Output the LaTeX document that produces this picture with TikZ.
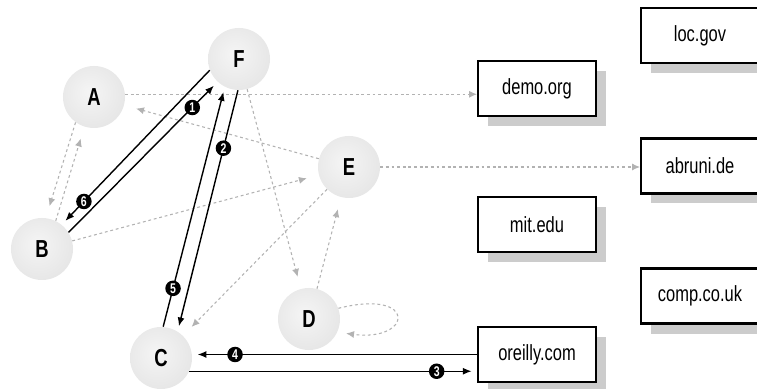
\documentclass[tikz,border=0pt]{standalone}
\usepackage{fontspec}
\setsansfont{Liberation Sans}[FakeStretch=0.75]
\usetikzlibrary{arrows.meta,shadows}

% soft grey ball for the hosts
\pgfdeclareradialshading{hostball}{\pgfpoint{-4bp}{4bp}}{%
    color(0bp)=(gray!8); color(30bp)=(gray!20); color(50bp)=(gray!45); color(72bp)=(gray!45)}

\begin{document}
\begin{tikzpicture}[
    x=0.2mm,
    y=-0.2mm,
    >=Latex,
    host/.style={
        circle,
        minimum size=1.24cm,
        inner sep=0pt,
        shading=hostball,
        font=\sffamily\bfseries\fontsize{14}{14}\selectfont
    },
    site/.style={
        draw,
        line width=1.2pt,
        fill=white,
        minimum width=2.36cm,
        minimum height=1.1cm,
        inner sep=0pt,
        font=\sffamily\fontsize{12.5}{12.5}\selectfont,
        drop shadow={shadow xshift=0.2cm, shadow yshift=-0.2cm,
                     fill=gray!40, opacity=1}
    },
    num/.style={
        circle,
        fill=black,
        text=white,
        inner sep=0pt,
        minimum size=0.31cm,
        font=\sffamily\bfseries\fontsize{8}{8}\selectfont
    },
    weak/.style={-{Latex[length=4.5pt,width=4pt]}, gray!60, line width=0.6pt,
                 dash pattern=on 1.6pt off 1.6pt, shorten >=7pt},
    crawl/.style={-{Latex[length=5pt,width=4pt]}, line width=0.8pt, shorten >=3pt}
]

\path[clip] (0,0) rectangle (757,389);
\fill[white] (0,0) rectangle (757,389);

% ============================================================
% Hosts
% ============================================================

\node[host] (F) at (239,59) {F};
\node[host] (A) at (94,97) {A};
\node[host] (E) at (349,167) {E};
\node[host] (B) at (42,249) {B};
\node[host] (C) at (161,358) {C};
\node[host] (D) at (309,319) {D};

% ============================================================
% Sites
% ============================================================

\node[site] (loc) at (700,35.5) {loc.gov};
\node[site] (demo) at (537,88.5) {demo.org};
\node[site] (abruni) at (700,166) {abruni.de};
\node[site] (mit) at (537,224.5) {mit.edu};
\node[site] (comp) at (700,296) {comp.co.uk};
\node[site] (oreilly) at (537,354.5) {oreilly.com};

% ============================================================
% Links between pages (dotted)
% ============================================================

\draw[weak, shorten >=0pt] (A.5) -- (A.5 -| demo.west);
\draw[weak, shorten >=0pt] (E.east) -- (E.east -| abruni.west);
\draw[weak] (E) -- (A);
\draw[weak] (B) -- (E);
\draw[weak] (E) -- (C);
\draw[weak] (F) -- (D);
\draw[weak] (D) -- (E);
\draw[weak] (A.234) -- (B.83);
\draw[weak] (B.64) -- (A.252);

% self link on D
\draw[weak, shorten >=5pt]
    (D.20) .. controls +(80,-20) and +(75,10) .. (D.-25);

% ============================================================
% Crawl order (solid)
% ============================================================

\draw[crawl] (B.32) -- (F.227) node[num, pos=0.83] {1};
\draw[crawl] (F.268) -- (C.58) node[num, pos=0.24] {2};
\draw[crawl] (C.-25) -- (C.-25 -| oreilly.west) node[num, pos=0.86] {3};
\draw[crawl] (oreilly.west) -- (oreilly.west -| C.east) node[num, pos=0.85] {4};
\draw[crawl] (C.86) -- (F.243) node[num, pos=0.16] {5};
\draw[crawl] (F.201) -- (B.51) node[num, pos=0.85] {6};

\end{tikzpicture}
\end{document}
